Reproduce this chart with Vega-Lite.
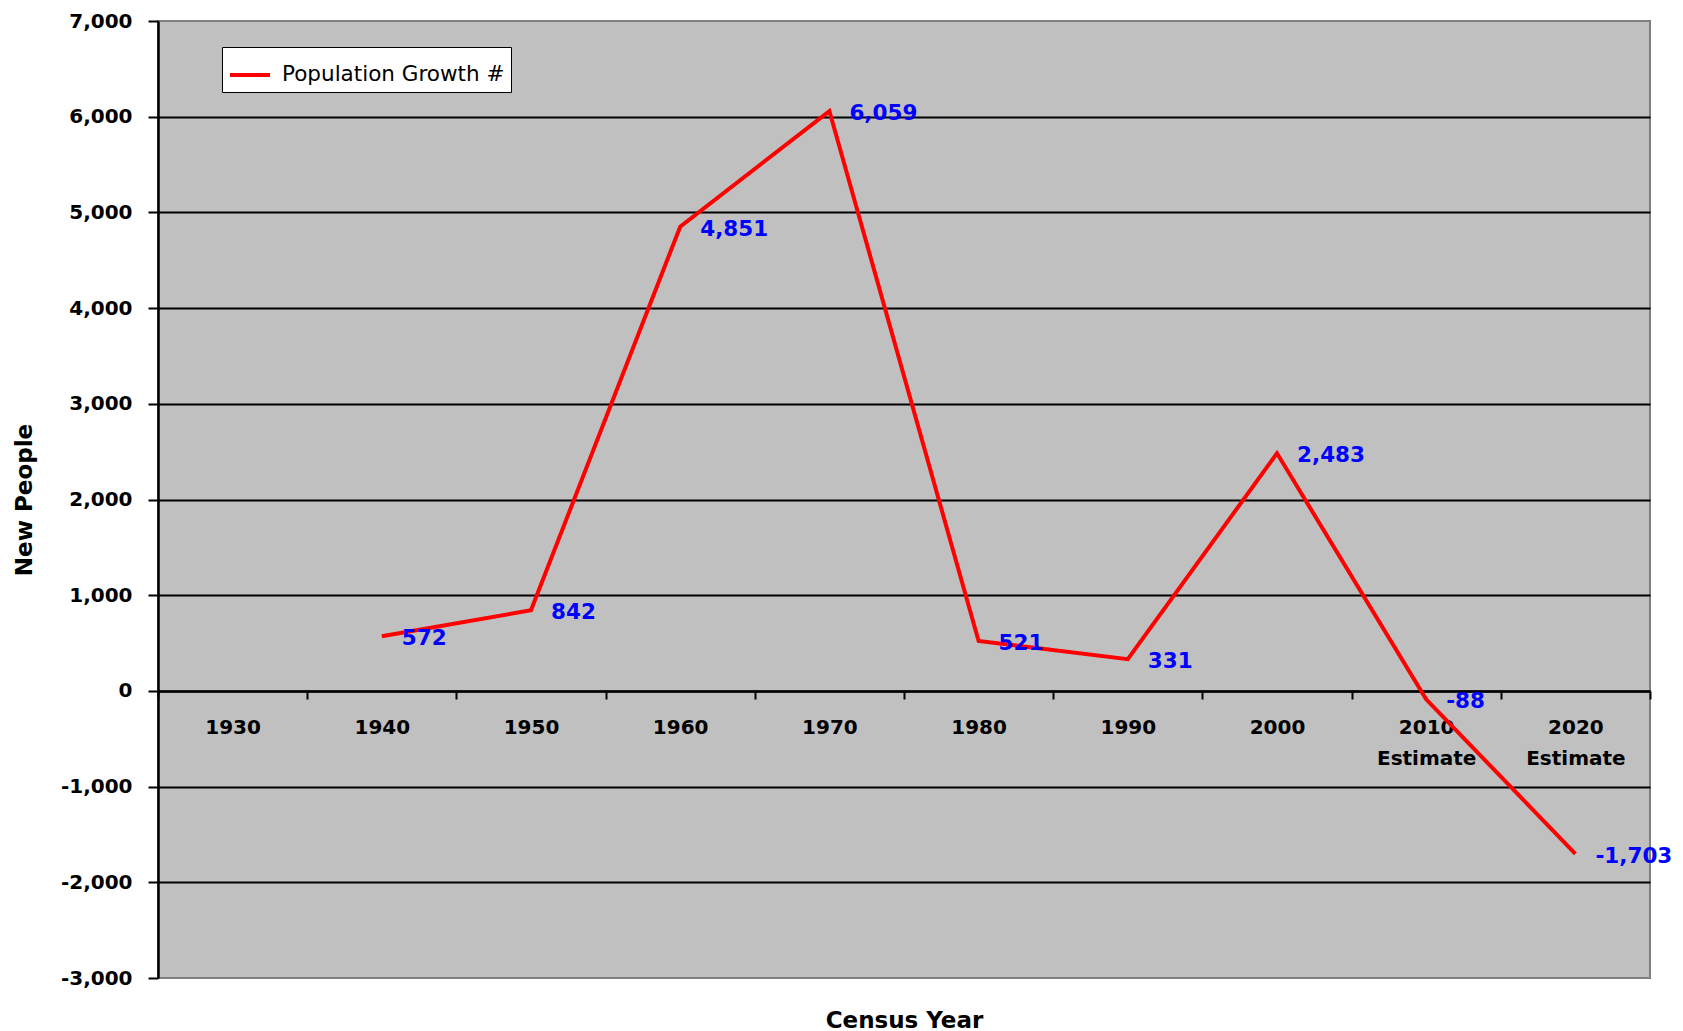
{
  "$schema": "https://vega.github.io/schema/vega-lite/v6.json",
  "autosize": "none",
  "width": 1492,
  "height": 957,
  "padding": {"left": 158, "top": 21, "right": 33, "bottom": 53},
  "background": "white",
  "data": {
    "values": [
      {"year": "1940", "v": 572},
      {"year": "1950", "v": 842},
      {"year": "1960", "v": 4851},
      {"year": "1970", "v": 6059},
      {"year": "1980", "v": 521},
      {"year": "1990", "v": 331},
      {"year": "2000", "v": 2483},
      {"year": "2010 Estimate", "v": -88},
      {"year": "2020 Estimate", "v": -1703}
    ]
  },
  "encoding": {
    "x": {
      "field": "year",
      "type": "nominal",
      "bandPosition": 0.5,
      "scale": {
        "type": "band",
        "domain": ["1930", "1940", "1950", "1960", "1970", "1980", "1990", "2000", "2010 Estimate", "2020 Estimate"],
        "paddingInner": 0,
        "paddingOuter": 0
      },
      "axis": {
        "title": "Census Year",
        "orient": "bottom",
        "offset": -287,
        "labelAngle": 0,
        "labelExpr": "split(datum.label, ' ')",
        "labelLineHeight": 31,
        "labelFont": "DejaVu Sans",
        "labelFontWeight": "bold",
        "labelFontSize": 20,
        "labelColor": "black",
        "labelPadding": 18,
        "labelBaseline": "top",
        "tickBand": "extent",
        "tickSize": 8,
        "tickColor": "black",
        "tickWidth": 2,
        "domainColor": "black",
        "domainWidth": 2.5,
        "grid": false,
        "titleFont": "DejaVu Sans",
        "titleFontWeight": "bold",
        "titleFontSize": 23,
        "titleColor": "black",
        "titleBaseline": "middle",
        "titleY": 329
      }
    },
    "y": {
      "field": "v",
      "type": "quantitative",
      "scale": {"domain": [-3000, 7000], "nice": false, "zero": false},
      "axis": {
        "title": "New People",
        "values": [-3000, -2000, -1000, 0, 1000, 2000, 3000, 4000, 5000, 6000, 7000],
        "format": ",.0f",
        "labelFont": "DejaVu Sans",
        "labelFontWeight": "bold",
        "labelFontSize": 20,
        "labelColor": "black",
        "labelPadding": 16,
        "tickSize": 10,
        "tickColor": "black",
        "tickWidth": 2,
        "domainColor": "black",
        "domainWidth": 2.5,
        "grid": true,
        "gridColor": {"condition": {"test": "datum.value >= 7000 || datum.value <= -3000", "value": "transparent"}, "value": "black"},
        "gridWidth": 2,
        "titleFont": "DejaVu Sans",
        "titleFontWeight": "bold",
        "titleFontSize": 23,
        "titleColor": "black",
        "titleAngle": -90,
        "titleAlign": "center",
        "titleBaseline": "middle",
        "titleX": -134,
        "titleY": 478.5
      }
    }
  },
  "layer": [
    {
      "mark": {"type": "line", "strokeWidth": 4},
      "encoding": {
        "color": {
          "datum": "Population Growth #",
          "type": "nominal",
          "scale": {"domain": ["Population Growth #"], "range": ["#FF0000"]},
          "legend": {
            "title": null,
            "orient": "none",
            "legendX": 64,
            "legendY": 26,
            "fillColor": "white",
            "strokeColor": "black",
            "padding": 6,
            "symbolType": "stroke",
            "symbolStrokeWidth": 4,
            "symbolSize": 1600,
            "labelFont": "DejaVu Sans",
            "labelFontSize": 21.5,
            "labelColor": "black",
            "labelOffset": 10,
            "labelLimit": 500
          }
        }
      }
    },
    {
      "mark": {
        "type": "text",
        "align": "left",
        "baseline": "middle",
        "dx": 20,
        "dy": 3,
        "font": "DejaVu Sans",
        "fontWeight": "bold",
        "fontSize": 21.5,
        "color": "#0000FF"
      },
      "encoding": {
        "text": {"field": "v", "type": "quantitative", "format": ","}
      }
    }
  ],
  "config": {
    "view": {"fill": "#C0C0C0", "stroke": "#808080", "strokeWidth": 2},
    "locale": {
      "number": {
        "decimal": ".",
        "thousands": ",",
        "grouping": [3],
        "currency": ["$", ""],
        "minus": "-"
      }
    }
  }
}
